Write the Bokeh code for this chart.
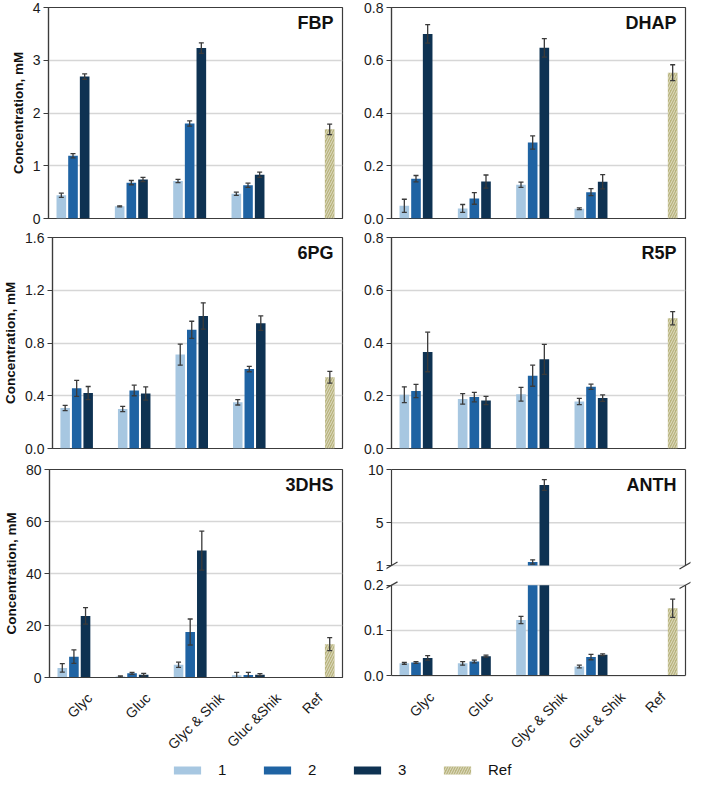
import math
from bokeh.plotting import figure
from bokeh.models import (Range1d, FixedTicker, PrintfTickFormatter, Label,
                          Legend, LegendItem, ColumnDataSource, CustomJSTickFormatter)
from bokeh.layouts import row, column
from bokeh.embed import file_html
from bokeh.resources import INLINE

# ---------------- data ----------------
CATS_LEFT = ["Glyc", "Gluc", "Glyc & Shik", "Gluc &Shik", "Ref"]
CATS_RIGHT = ["Glyc", "Gluc", "Glyc & Shik", "Gluc & Shik", "Ref"]
SERIES = ["1", "2", "3", "Ref"]
COLORS = ["#a7c7e1", "#1f63a3", "#0e3252", "#b9b47e"]

FBP_1 = [0.44, 0.23, 0.71, 0.47]
FBP_2 = [1.19, 0.68, 1.80, 0.63]
FBP_3 = [2.69, 0.74, 3.23, 0.83]
FBP_E1 = [0.04, 0.01, 0.03, 0.03]
FBP_E2 = [0.04, 0.04, 0.05, 0.04]
FBP_E3 = [0.05, 0.04, 0.10, 0.05]
FBP_REF, FBP_REF_E = 1.69, 0.10

DHAP_1 = [0.048, 0.038, 0.128, 0.037]
DHAP_2 = [0.151, 0.076, 0.288, 0.100]
DHAP_3 = [0.700, 0.140, 0.647, 0.139]
DHAP_E1 = [0.025, 0.015, 0.010, 0.003]
DHAP_E2 = [0.012, 0.022, 0.025, 0.013]
DHAP_E3 = [0.035, 0.025, 0.035, 0.027]
DHAP_REF, DHAP_REF_E = 0.553, 0.030

PG6_1 = [0.307, 0.300, 0.712, 0.350]
PG6_2 = [0.456, 0.440, 0.900, 0.602]
PG6_3 = [0.420, 0.417, 1.005, 0.950]
PG6_E1 = [0.020, 0.020, 0.080, 0.020]
PG6_E2 = [0.060, 0.040, 0.065, 0.020]
PG6_E3 = [0.050, 0.050, 0.100, 0.055]
PG6_REF, PG6_REF_E = 0.540, 0.045

R5P_1 = [0.204, 0.188, 0.206, 0.178]
R5P_2 = [0.218, 0.195, 0.276, 0.234]
R5P_3 = [0.366, 0.182, 0.338, 0.191]
R5P_E1 = [0.030, 0.020, 0.026, 0.012]
R5P_E2 = [0.025, 0.018, 0.040, 0.010]
R5P_E3 = [0.075, 0.016, 0.057, 0.012]
R5P_REF, R5P_REF_E = 0.494, 0.025

DHS_1 = [3.7, 0.4, 4.9, 0.9]
DHS_2 = [8.0, 1.6, 17.5, 1.0]
DHS_3 = [23.7, 1.1, 48.8, 1.1]
DHS_E1 = [1.6, 0.2, 1.0, 1.1]
DHS_E2 = [2.6, 0.4, 5.0, 1.0]
DHS_E3 = [3.2, 0.5, 7.5, 0.4]
DHS_REF, DHS_REF_E = 12.8, 2.5

ANTH_1 = [0.027, 0.027, 0.123, 0.020]
ANTH_2 = [0.029, 0.031, 1.33, 0.041]
ANTH_3 = [0.039, 0.043, 8.55, 0.046]
ANTH_E1 = [0.002, 0.004, 0.008, 0.003]
ANTH_E2 = [0.002, 0.003, 0.20, 0.006]
ANTH_E3 = [0.005, 0.002, 0.50, 0.002]
ANTH_REF, ANTH_REF_E = 0.149, 0.020
ANTH_LOWER = (0, 0.2)     # lower segment of the broken axis
ANTH_UPPER = (1, 10)      # upper segment of the broken axis

# ---------------- style ----------------
FONT = "Liberation Sans"
FRAME = "#3c3c3c"
GRID = "#d6d6d6"
ERR = "#3a3a3a"
TICK_FS = 14
XS, XE = -0.52, 4.52
SLOT = 0.2
BAR_W = 0.165

CHAR_W = {"G": 778, "l": 222, "y": 500, "c": 500, "u": 556, " ": 278, "&": 667,
          "S": 667, "h": 556, "i": 222, "k": 500, "R": 722, "e": 556, "f": 278}


def text_width(s, fs):
    return sum(CHAR_W.get(ch, 556) for ch in s) * fs / 1000.0


def draw_bars(p, s1, s2, s3, e1, e2, e3, ref, eref, ylo, yhi, base=0, cap=None):
    vals = [s1, s2, s3]
    errs = [e1, e2, e3]
    ex, elo, ehi = [], [], []
    for j in range(3):
        xs = [i + (j - 1.5) * SLOT for i in range(len(vals[j]))]
        tops = vals[j] if cap is None else [min(v, cap) for v in vals[j]]
        tops = [max(t, base) for t in tops]
        p.vbar(x=xs, top=tops, bottom=base, width=BAR_W,
               fill_color=COLORS[j], line_color=None)
        for x, v, e in zip(xs, vals[j], errs[j]):
            if ylo < v < yhi:
                ex.append(x); elo.append(v - e); ehi.append(v + e)
    xr = len(vals[0]) + 1.5 * SLOT
    rtop = ref if cap is None else min(ref, cap)
    rtop = max(rtop, base)
    p.vbar(x=[xr], top=[rtop], bottom=base, width=BAR_W,
           fill_color=COLORS[3], line_color=None,
           hatch_pattern="/", hatch_color="white", hatch_alpha=0.55,
           hatch_scale=5, hatch_weight=1)
    if ylo < ref < yhi:
        ex.append(xr); elo.append(ref - eref); ehi.append(ref + eref)
    src = ColumnDataSource(dict(x=ex, lo=elo, hi=ehi))
    p.segment(x0="x", y0="lo", x1="x", y1="hi", source=src,
              line_color=ERR, line_width=1.3)
    p.scatter(x="x", y="lo", source=src, marker="dash", size=5,
              line_color=ERR, line_width=1.3)
    p.scatter(x="x", y="hi", source=src, marker="dash", size=5,
              line_color=ERR, line_width=1.3)


def style_y(p, ticks, fmt, ylabel, tick_in=0, tick_out=5, line=True, grid=True):
    ax = p.yaxis[0]
    ax.ticker = FixedTicker(ticks=ticks)
    ax.formatter = PrintfTickFormatter(format=fmt)
    ax.major_label_text_font = FONT
    ax.major_label_text_font_size = f"{TICK_FS}px"
    ax.major_label_text_color = "#1a1a1a"
    ax.major_tick_out = tick_out
    ax.major_tick_in = tick_in
    ax.minor_tick_line_color = None
    ax.major_tick_line_color = FRAME
    ax.major_tick_line_width = 1.2
    ax.axis_line_color = FRAME if line else None
    ax.axis_line_width = 1.2
    ax.major_label_standoff = 3
    if ylabel:
        ax.axis_label = "Concentration, mM"
        ax.axis_label_text_font = FONT
        ax.axis_label_text_font_style = "bold"
        ax.axis_label_text_font_size = "13.5px"
        ax.axis_label_text_color = "#111111"
        ax.axis_label_standoff = 4
    p.xgrid.grid_line_color = None
    if grid:
        p.ygrid.ticker = FixedTicker(ticks=ticks)
        p.ygrid.grid_line_color = GRID
        p.ygrid.grid_line_width = 1.5
    else:
        p.ygrid.grid_line_color = None


def cat_axis(p, cats, px_per_unit, line=True):
    ax = p.xaxis[0]
    # Bokeh anchors the end of a rotated label on its tick; shift each tick so the
    # label's box is centred under its group.
    shifts = [text_width(c, TICK_FS) * math.cos(math.pi / 4) / 2 / px_per_unit for c in cats]
    ax.ticker = FixedTicker(ticks=[i + s for i, s in enumerate(shifts)])
    ax.formatter = CustomJSTickFormatter(args=dict(labels=cats), code="return labels[index];")
    ax.major_label_orientation = math.pi / 4
    ax.major_label_text_font = FONT
    ax.major_label_text_font_size = f"{TICK_FS}px"
    ax.major_label_text_color = "#1a1a1a"
    ax.major_label_standoff = 12
    ax.major_tick_line_color = None
    ax.minor_tick_line_color = None
    ax.axis_line_color = FRAME if line else None
    ax.axis_line_width = 1.2


def add_title(p, text, ytop):
    p.add_layout(Label(x=XE, y=ytop, text=text, x_offset=-9, y_offset=-5,
                       text_align="right", text_baseline="top",
                       text_font=FONT, text_font_style="bold",
                       text_font_size="18px", text_color="#111111"))


def make_fig(width, height, xr, yr, left, right, top, bottom, outline=True, xloc="below"):
    p = figure(width=width, height=height, x_range=xr, y_range=yr,
               toolbar_location=None, output_backend="svg",
               min_border_left=left, min_border_right=right,
               min_border_top=top, min_border_bottom=bottom,
               x_axis_location=xloc,
               background_fill_color="white", border_fill_color="white")
    p.outline_line_color = FRAME if outline else None
    p.outline_line_width = 1.2
    return p


LW, RW = 350, 343
LB, RB = 48, 41
FW = 294                       # frame width (px)
SPAN = 211                     # frame height (px)
H1, H2 = 7 + SPAN + 12, 7 + SPAN + 14
BOT = 80
H3 = 7 + SPAN + BOT
PX_X = FW / (XE - XS)

# Row 1
f_fbp = make_fig(LW, H1, Range1d(XS, XE), Range1d(0, 4), LB, 8, 7, 12)
draw_bars(f_fbp, FBP_1, FBP_2, FBP_3, FBP_E1, FBP_E2, FBP_E3, FBP_REF, FBP_REF_E, 0, 4)
style_y(f_fbp, [0, 1, 2, 3, 4], "%d", True)
f_fbp.xaxis.visible = False
add_title(f_fbp, "FBP", 4)

f_dhap = make_fig(RW, H1, Range1d(XS, XE), Range1d(0, 0.8), RB, 8, 7, 12)
draw_bars(f_dhap, DHAP_1, DHAP_2, DHAP_3, DHAP_E1, DHAP_E2, DHAP_E3, DHAP_REF, DHAP_REF_E, 0, 0.8)
style_y(f_dhap, [0, 0.2, 0.4, 0.6, 0.8], "%.1f", False)
f_dhap.xaxis.visible = False
add_title(f_dhap, "DHAP", 0.8)

# Row 2
f_6pg = make_fig(LW, H2, Range1d(XS, XE), Range1d(0, 1.6), LB, 8, 7, 14)
draw_bars(f_6pg, PG6_1, PG6_2, PG6_3, PG6_E1, PG6_E2, PG6_E3, PG6_REF, PG6_REF_E, 0, 1.6)
style_y(f_6pg, [0, 0.4, 0.8, 1.2, 1.6], "%.1f", True)
f_6pg.xaxis.visible = False
add_title(f_6pg, "6PG", 1.6)

f_r5p = make_fig(RW, H2, Range1d(XS, XE), Range1d(0, 0.8), RB, 8, 7, 14)
draw_bars(f_r5p, R5P_1, R5P_2, R5P_3, R5P_E1, R5P_E2, R5P_E3, R5P_REF, R5P_REF_E, 0, 0.8)
style_y(f_r5p, [0, 0.2, 0.4, 0.6, 0.8], "%.1f", False)
f_r5p.xaxis.visible = False
add_title(f_r5p, "R5P", 0.8)

# Row 3 left
f_dhs = make_fig(LW, H3, Range1d(XS, XE), Range1d(0, 80), LB, 8, 7, BOT)
draw_bars(f_dhs, DHS_1, DHS_2, DHS_3, DHS_E1, DHS_E2, DHS_E3, DHS_REF, DHS_REF_E, 0, 80)
style_y(f_dhs, [0, 20, 40, 60, 80], "%d", True)
cat_axis(f_dhs, CATS_LEFT, PX_X)
add_title(f_dhs, "3DHS", 80)

# Row 3 right: broken axis (two stacked plots).  Frames extend PAD px beyond the
# spines so the break marks can cross them.
PAD = 5
GAP = 20
UP_SPAN = 96
LO_SPAN = SPAN - UP_SPAN - GAP
UP_BOTTOM = 4
ax_xr = Range1d(XS - PAD / PX_X, XE + PAD / PX_X)

u0, u1 = ANTH_UPPER
up_s = UP_SPAN / (u1 - u0)
UP_FH = 1 + UP_SPAN + 6
UP_H = 6 + UP_FH + UP_BOTTOM
f_up = make_fig(RW, UP_H, ax_xr, Range1d(u0 - 6 / up_s, u1 + 1 / up_s),
                RB - PAD, 8 - PAD, 6, UP_BOTTOM, outline=False, xloc=None)

l0, l1 = ANTH_LOWER
lo_s = LO_SPAN / (l1 - l0)
LO_TOP = GAP - 6 - 6 - UP_BOTTOM
LO_FH = 6 + LO_SPAN + 1
LO_H = H3 - UP_H
f_lo = make_fig(RW, LO_H, ax_xr, Range1d(l0 - 1 / lo_s, l1 + 6 / lo_s),
                RB - PAD, 8 - PAD, LO_TOP, LO_H - LO_TOP - LO_FH,
                outline=False)

up_ticks, lo_ticks = [1, 5, 10], [0, 0.1, 0.2]
for fg, ticks, fmt, (y0, y1) in ((f_up, up_ticks, "%d", ANTH_UPPER),
                                 (f_lo, lo_ticks, "%.1f", ANTH_LOWER)):
    style_y(fg, ticks, fmt, False, tick_in=PAD, tick_out=0, line=False, grid=False)
    if fg is f_up:
        gy = [t for t in ticks if t < y1]
    else:
        gy = [t for t in ticks if t > y0]
    fg.segment(x0=XS, x1=XE, y0=gy, y1=gy, line_color=GRID, line_width=1.5)

draw_bars(f_up, ANTH_1, ANTH_2, ANTH_3, ANTH_E1, ANTH_E2, ANTH_E3, ANTH_REF, ANTH_REF_E,
          u0, u1, base=u0)
draw_bars(f_lo, ANTH_1, ANTH_2, ANTH_3, ANTH_E1, ANTH_E2, ANTH_E3, ANTH_REF, ANTH_REF_E,
          l0, l1, cap=l1)

# spines
f_up.segment(x0=[XS, XE, XS], y0=[u0, u0, u1], x1=[XS, XE, XE], y1=[u1, u1, u1],
             line_color=FRAME, line_width=1.2)
f_lo.segment(x0=[XS, XE, XS], y0=[l0, l0, l0], x1=[XS, XE, XE], y1=[l1, l1, l0],
             line_color=FRAME, line_width=1.2)
# break marks
for fg, yb, s in ((f_up, u0, up_s), (f_lo, l1, lo_s)):
    fg.segment(x0=[XS - 6 / PX_X, XE - 6 / PX_X], y0=[yb - 3.5 / s] * 2,
               x1=[XS + 6 / PX_X, XE + 6 / PX_X], y1=[yb + 3.5 / s] * 2,
               line_color=FRAME, line_width=1.2)

add_title(f_up, "ANTH", u1)
cat_axis(f_lo, CATS_RIGHT, PX_X, line=False)

# Legend strip
f_leg = figure(width=LW + RW, height=18, x_range=Range1d(0, 1), y_range=Range1d(0, 1),
               toolbar_location=None, output_backend="svg", min_border=0)
f_leg.axis.visible = False
f_leg.grid.visible = False
f_leg.outline_line_color = None
dummy = []
for j in range(4):
    kw = {}
    if j == 3:
        kw = dict(hatch_pattern="/", hatch_color="white", hatch_alpha=0.55,
                  hatch_scale=5, hatch_weight=1)
    dummy.append(f_leg.vbar(x=[0.5], top=[0], bottom=[0], width=0.01,
                            fill_color=COLORS[j], line_color=None, **kw))
legend = Legend(items=[LegendItem(label=SERIES[j], renderers=[dummy[j]]) for j in range(4)],
                orientation="horizontal", location=(170, 0),
                glyph_width=34, glyph_height=10, label_standoff=14, spacing=22,
                padding=0, margin=0, border_line_color=None,
                background_fill_alpha=0, label_text_font=FONT,
                label_text_font_size="15px", label_text_color="#111111")
f_leg.add_layout(legend, "center")

layout = column(row(f_fbp, f_dhap), row(f_6pg, f_r5p),
                row(f_dhs, column(f_up, f_lo)), f_leg)

open("out.html", "w").write(file_html(layout, INLINE))
